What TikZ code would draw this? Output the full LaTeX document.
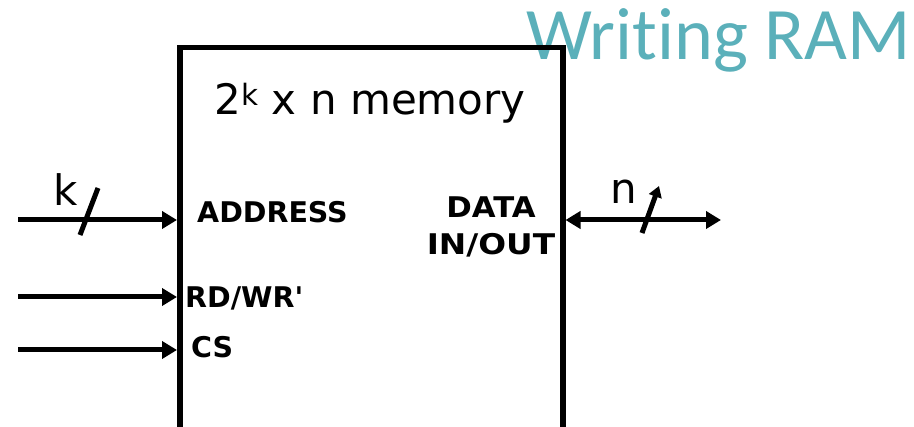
\documentclass[tikz,border=0pt]{standalone}
\usepackage{fontspec}
\setmainfont{DejaVu Sans}
\newfontfamily\titlefont[Ligatures={NoCommon,NoContextual}]{Carlito}
\usetikzlibrary{arrows.meta}
\definecolor{titleteal}{RGB}{91,176,186}
\tikzset{
  sig/.style={line width=5pt, -{Triangle[length=15pt,width=17pt]}},
  bus/.style={line width=5pt, {Triangle[length=15pt,width=17pt]}-{Triangle[length=15pt,width=17pt]}},
  tick/.style={line width=5pt},
  label/.style={inner sep=0pt, font=\fontsize{28.5}{32}\selectfont\bfseries},
  buslabel/.style={inner sep=0pt, font=\fontsize{42}{48}\selectfont},
}
\begin{document}
\begin{tikzpicture}[x=1pt, y=-1pt]
  \clip (0,0) rectangle (914,427);
  \fill[white] (0,0) rectangle (914,427);

  % slide title (kern keeps "t" and "i" as separate glyphs)
  \node[anchor=base west, inner sep=0pt, text=titleteal,
        font=\titlefont\fontsize{74}{80}\selectfont] (title) at (526,60) {Writ\kern0pt ing RAM};

  % memory block (its lower part runs off the page)
  \node[draw, line width=5.5pt, minimum width=383pt, minimum height=420pt,
        anchor=north west, inner sep=0pt] (mem) at (177,45) {};
  \node[buslabel, anchor=base] (caption) at (370,115) {2\textsuperscript{k} x n memory};

  % port labels
  \node[label, anchor=west] (addr) at (197,212) {ADDRESS};
  \node[label, xscale=1.08] (data) at (491,207) {DATA};
  \node[label, xscale=1.15] (inout) at (491,245) {IN/OUT};
  \node[label, anchor=west] (rdwr) at (185,298) {RD/WR\textquotesingle};
  \node[label, anchor=west] (cs) at (191,347) {CS};

  % free ends of the signal lines
  \coordinate (kin) at (18,220);
  \coordinate (rwin) at (18,297);
  \coordinate (csin) at (18,350);
  \coordinate (dout) at (721,220);

  % address bus with width tick
  \draw[sig] (kin) -- (kin -| mem.west);
  \coordinate (ka) at (80,235);
  \coordinate (kb) at (98,188);
  \draw[tick] (ka) -- (kb);
  \node[buslabel] (k) at (66,190) {k};

  % control inputs
  \draw[sig] (rwin) -- (rwin -| mem.west);
  \draw[sig] (csin) -- (csin -| mem.west);

  % bidirectional data bus with width tick
  \draw[bus] (dout -| mem.east) -- (dout);
  \coordinate (na) at (642,233);
  \coordinate (nb) at (659,186);
  \draw[line width=5pt, -{Triangle[length=11pt,width=13pt]}] (na) -- (nb);
  \node[buslabel] (n) at (624,192) {n};
\end{tikzpicture}
\end{document}
